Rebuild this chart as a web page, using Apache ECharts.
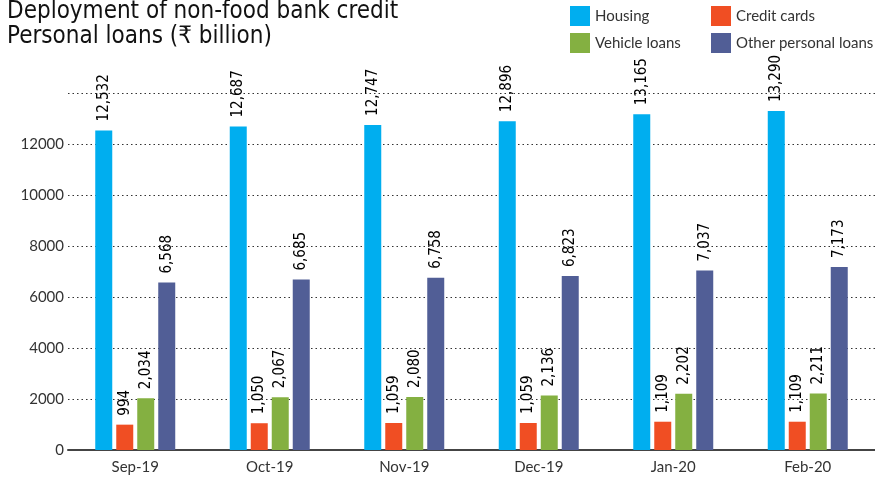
<!DOCTYPE html>
<html><head><meta charset="utf-8">
<script src="https://cdn.jsdelivr.net/npm/echarts@6/dist/echarts.min.js"></script>
<style>html,body{margin:0;padding:0;background:#fff}#c{width:875px;height:478px}</style>
</head><body><div id="c"></div>
<script>
const categories = ['Sep-19','Oct-19','Nov-19','Dec-19','Jan-20','Feb-20'];
const housing = [12532, 12687, 12747, 12896, 13165, 13290];
const creditCards = [994, 1050, 1059, 1059, 1109, 1109];
const vehicleLoans = [2034, 2067, 2080, 2136, 2202, 2211];
const otherPersonal = [6568, 6685, 6758, 6823, 7037, 7173];
const yTicks = [0, 2000, 4000, 6000, 8000, 10000, 12000];

const chart = echarts.init(document.getElementById('c'));
const lbl = {
  show: true, position: 'top', rotate: 90, align: 'left', verticalAlign: 'middle',
  distance: 9, color: '#000', fontSize: 15, fontFamily: 'DejaVu Sans Condensed, sans-serif',
  formatter: p => p.value.toLocaleString('en-US')
};
function s(name, data, color) {
  return { name, type: 'bar', data, barWidth: 17, barGap: '23.5%', itemStyle: { color }, label: lbl };
}
chart.setOption({
  animation: false,
  title: {
    text: 'Deployment of non-food bank credit\nPersonal loans (₹ billion)',
    left: 7, top: -1, padding: 0,
    textStyle: { fontSize: 24, lineHeight: 25, fontWeight: 'normal', color: '#111', fontFamily: 'DejaVu Sans Condensed, sans-serif' }
  },
  legend: [
    { orient: 'vertical', left: 565, top: 1, itemWidth: 20, itemHeight: 20, itemGap: 7, icon: 'rect',
      data: ['Housing', 'Vehicle loans'], textStyle: { fontSize: 15, color: '#333', fontFamily: 'Lato, sans-serif' } },
    { orient: 'vertical', left: 706, top: 1, itemWidth: 20, itemHeight: 20, itemGap: 7, icon: 'rect',
      data: ['Credit cards', 'Other personal loans'], textStyle: { fontSize: 15, color: '#333', fontFamily: 'Lato, sans-serif' } }
  ],
  grid: { left: 68, right: 0, top: 93, bottom: 28, containLabel: false },
  xAxis: {
    type: 'category', data: categories,
    axisLine: { lineStyle: { color: '#444', width: 2 } },
    axisTick: { show: false },
    axisLabel: { color: '#333', fontSize: 15, margin: 10, fontFamily: 'Lato, sans-serif' }
  },
  yAxis: {
    type: 'value', min: 0, max: 14000, interval: 2000,
    axisLine: { show: false }, axisTick: { show: false },
    axisLabel: { color: '#333', fontSize: 15, margin: 4, fontFamily: 'Lato, sans-serif',
      formatter: v => yTicks.includes(v) ? String(v) : '' },
    splitLine: { lineStyle: { color: '#333', type: [1.5, 3], width: 1.2 } }
  },
  series: [
    s('Housing', housing, '#00AEEF'),
    s('Credit cards', creditCards, '#F04E23'),
    s('Vehicle loans', vehicleLoans, '#84B041'),
    s('Other personal loans', otherPersonal, '#515E96')
  ]
});
</script></body></html>
